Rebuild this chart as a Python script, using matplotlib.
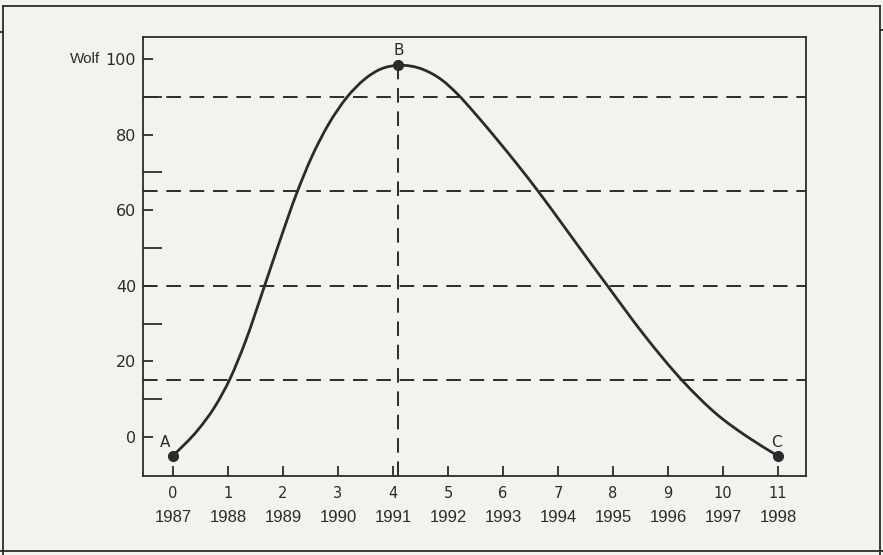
import matplotlib
matplotlib.use("Agg")
import numpy as np
import matplotlib.pyplot as plt
from matplotlib.lines import Line2D
from matplotlib.path import Path
from matplotlib.patches import PathPatch

# sunspot cycle: years since minimum vs Wolf number
cycle_x = [0, 0.46, 0.76, 1.04, 1.31, 1.67, 1.91, 2.25, 2.52, 2.82, 3.16,
           3.49, 3.79, 4.1, 4.55, 4.91, 5.16, 5.52, 5.88, 6.25, 6.64, 7.1,
           7.52, 7.9, 8.55, 9.27, 9.89, 10.44, 11]
wolf = [-5, 2.0, 8.0, 15.5, 25.0, 40.2, 50.5, 64.5, 74.0, 82.5, 89.8, 94.7,
        97.4, 98.3, 97.2, 94.2, 90.9, 85.1, 78.9, 72.3, 65.0, 55.9, 47.5,
        40.0, 27.3, 14.8, 6.0, 0.1, -5]

key_names = ["A", "B", "C"]
key_x = [0, 4.1, 11]
key_y = [-5, 98.3, -5]

guide_levels = [15, 40, 65, 90]
x_ticks = list(range(12))
years = [str(1987 + i) for i in x_ticks]
y_major = [0, 20, 40, 60, 80, 100]
y_minor = [10, 30, 50, 70, 90]

ink = "#2b2b2b"
paper = "#f3f2ee"
narrow = ["Liberation Sans", "DejaVu Sans"]


def smooth_path(xs, ys):
    """Cubic Hermite path through every point, slopes from neighbours."""
    x = np.asarray(xs, float)
    y = np.asarray(ys, float)
    m = np.gradient(y, x)
    verts = [(x[0], y[0])]
    codes = [Path.MOVETO]
    for i in range(len(x) - 1):
        h = (x[i + 1] - x[i]) / 3
        verts += [(x[i] + h, y[i] + m[i] * h),
                  (x[i + 1] - h, y[i + 1] - m[i + 1] * h),
                  (x[i + 1], y[i + 1])]
        codes += [Path.CURVE4] * 3
    return Path(verts, codes)


fig = plt.figure(figsize=(8.83, 5.55), dpi=100, facecolor=paper)
ax = fig.add_axes([143 / 883, 1 - 476 / 555, (806 - 143) / 883, (476 - 37) / 555])
ax.set_facecolor(paper)
ax.set_xlim(-0.545, 11.51)
ax.set_ylim(-10.3, 105.8)

# dashed guides
for lv in guide_levels:
    ax.axhline(lv, color=ink, lw=1.4, dashes=(7.5, 4.5), zorder=1)
ax.plot([key_x[1], key_x[1]], [-10.3, key_y[1]], color=ink, lw=1.4,
        dashes=(7.5, 4.5), zorder=1)

# the cycle curve and its key points
ax.add_patch(PathPatch(smooth_path(cycle_x, wolf), facecolor="none",
                       edgecolor=ink, lw=2.0, capstyle="round", zorder=3))
ax.plot(key_x, key_y, "o", color=ink, ms=7, zorder=4)
label_offsets = [(-6, 10), (0, 11), (-1, 10)]
for name, x, y, off in zip(key_names, key_x, key_y, label_offsets):
    ax.annotate(name, (x, y), xytext=off, textcoords="offset points",
                ha="center", va="center", fontsize=11, color=ink)

# axes styling
for sp in ax.spines.values():
    sp.set_color(ink)
    sp.set_linewidth(1.3)
ax.set_xticks(x_ticks)
ax.set_xticklabels([str(t) for t in x_ticks])
ax.set_yticks(y_major)
ax.set_yticks(y_minor, minor=True)
ax.tick_params(axis="x", direction="in", length=7, width=1.3, color=ink,
               labelsize=10.5, labelcolor=ink, pad=7)
ax.tick_params(axis="y", which="major", direction="in", length=7, width=1.3,
               color=ink, labelsize=11.5, labelcolor=ink, pad=5)
ax.tick_params(axis="y", which="minor", direction="in", length=14, width=1.3,
               color=ink)

for x, yr in zip(x_ticks, years):
    ax.annotate(yr, (x, 0), xycoords=("data", "axes fraction"),
                xytext=(0, -30), textcoords="offset points", ha="center",
                va="center", fontsize=12, family=narrow, color=ink)

ax.annotate("Wolf", (0, 100), xycoords=("axes fraction", "data"),
            xytext=(-31, 0), textcoords="offset points", ha="right",
            va="center", fontsize=11, family=narrow, color=ink)

# page frame around the figure
frame = [((3, 880), (6, 6)), ((3, 3), (6, 555)), ((880, 880), (6, 555)),
         ((0, 883), (551, 551)), ((0, 3), (32, 32)), ((880, 883), (30, 30))]
for xs, ys in frame:
    fig.add_artist(Line2D([v / 883 for v in xs], [1 - v / 555 for v in ys],
                          color=ink, lw=1.3))

fig.savefig("out.png", dpi=100, facecolor=paper)
